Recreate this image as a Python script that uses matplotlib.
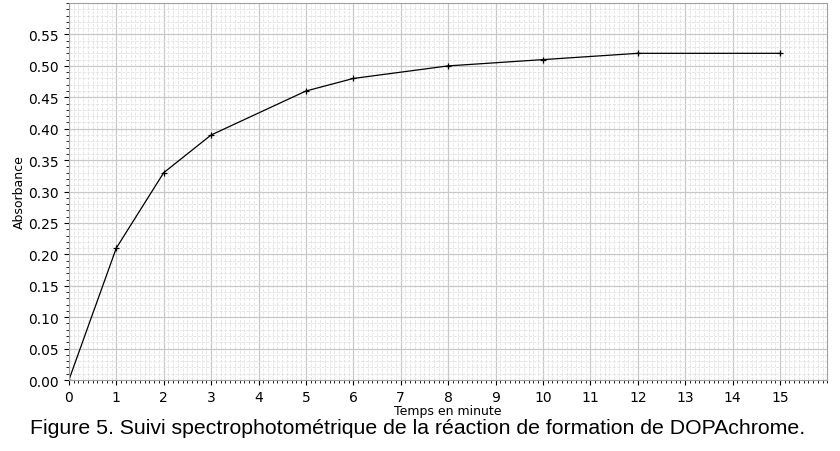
import matplotlib
matplotlib.use("Agg")
import matplotlib.pyplot as plt
from matplotlib.ticker import MultipleLocator

# Données
temps_min = [0, 1, 2, 3, 5, 6, 8, 10, 12, 15]
absorbance = [0.00, 0.21, 0.33, 0.39, 0.46, 0.48, 0.50, 0.51, 0.52, 0.52]
x_ticks = list(range(16))
y_ticks = [round(v * 0.05, 2) for v in range(12)]

fig = plt.figure(figsize=(8.4, 4.52), dpi=100)
ax = fig.add_axes([0.082, 0.157, 0.903, 0.834])

ax.plot(temps_min, absorbance, color="black", lw=0.9, marker="+", ms=4.5, mew=0.9)

ax.set_xlim(0, 16)
ax.set_ylim(0, 0.6)
ax.set_xticks(x_ticks)
ax.set_yticks(y_ticks)
ax.xaxis.set_minor_locator(MultipleLocator(0.1))
ax.yaxis.set_minor_locator(MultipleLocator(0.01))
ax.grid(which="major", color="#c8c8c8", lw=0.9)
ax.grid(which="minor", color="#e2e2e2", lw=0.6, ls="--")
ax.set_axisbelow(True)
ax.tick_params(labelsize=10)
ax.tick_params(which="minor", length=2)
for s in ax.spines.values():
    s.set_color("#a0a0a0")

ax.set_xlabel("Temps en minute", fontsize=9, labelpad=0)
ax.set_ylabel("Absorbance", fontsize=9, labelpad=2)

fig.text(0.497, 0.053, "Figure 5. Suivi spectrophotométrique de la réaction de formation de DOPAchrome.",
         ha="center", va="center", fontsize=15.3, family="Liberation Sans")

fig.savefig("out.png", dpi=100)
